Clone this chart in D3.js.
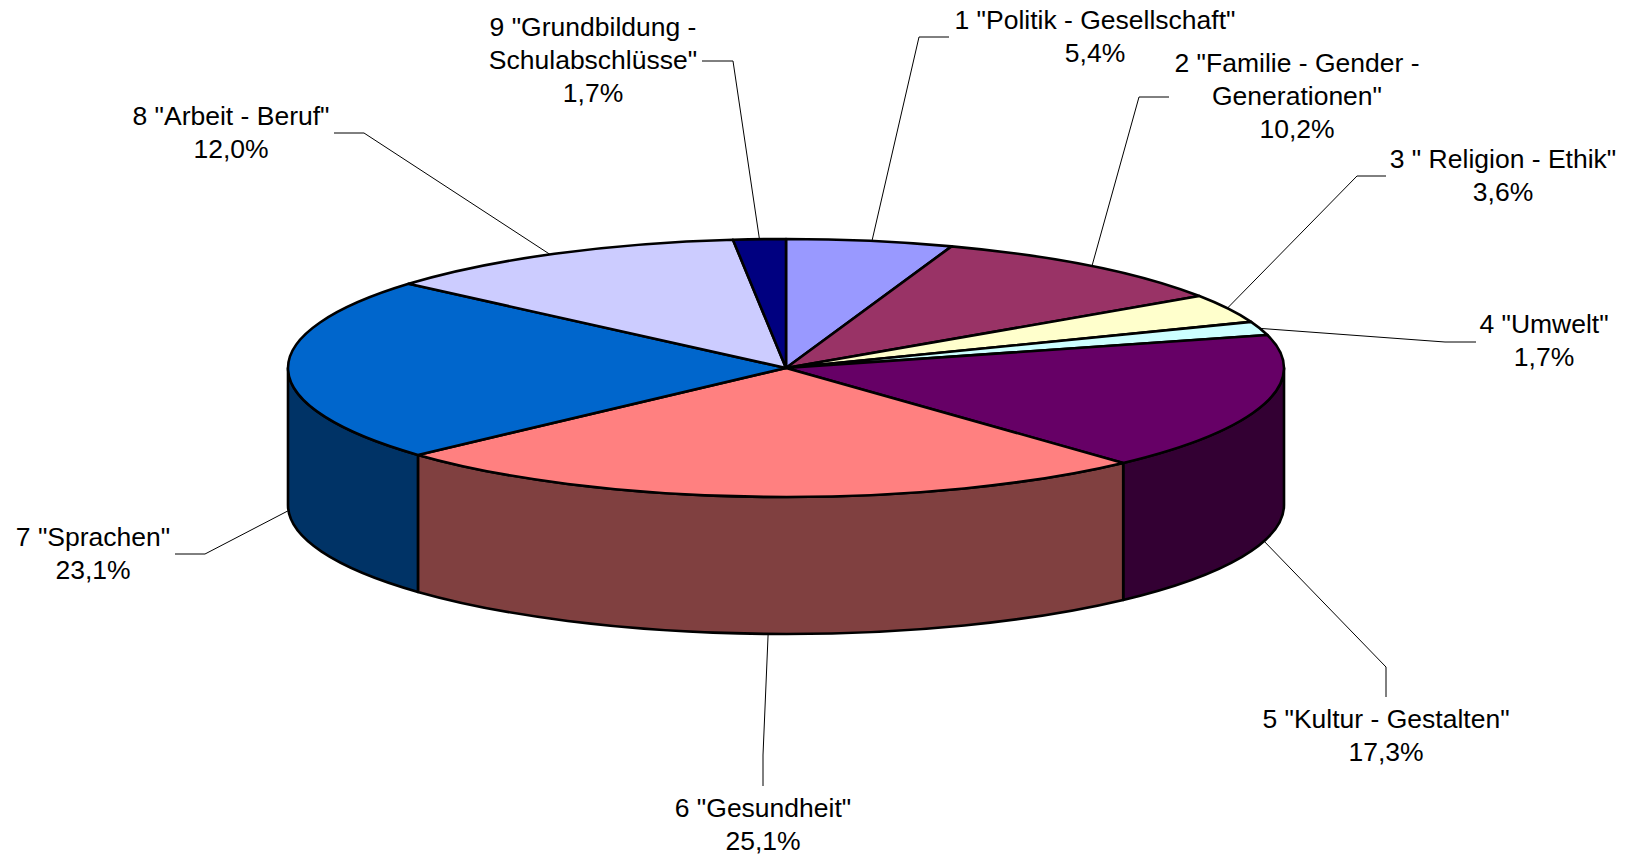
<!DOCTYPE html>
<html>
<head>
<meta charset="utf-8">
<script src="https://cdn.jsdelivr.net/npm/d3@7"></script>
<style>
	html, body { margin: 0; padding: 0; background: #fff; }
	svg { display: block; }
	text { font-family: "Liberation Sans", Arial, sans-serif; font-size: 26.5px; fill: #000; }
</style>
</head>
<body>
<div id="chart"></div>
<script>
var categories = [
	['1 "Politik - Gesellschaft"'],
	['2 "Familie - Gender -', 'Generationen"'],
	['3 " Religion - Ethik"'],
	['4 "Umwelt"'],
	['5 "Kultur - Gestalten"'],
	['6 "Gesundheit"'],
	['7 "Sprachen"'],
	['8 "Arbeit - Beruf"'],
	['9 "Grundbildung -', 'Schulabschlüsse"']
];
var shares = [5.4, 10.2, 3.6, 1.7, 17.3, 25.1, 23.1, 12.0, 1.7];
var topColors = ["#9999FF", "#993366", "#FFFFCC", "#CCFFFF", "#660066", "#FF8080", "#0066CC", "#CCCCFF", "#000080"];

// label placement: centre x and first baseline of each label
var labelX = [1095, 1297, 1503, 1544, 1386, 763, 93, 231, 593];
var labelY = [29, 72, 168, 333, 728, 817, 546, 125, 36];
var lineStep = 33;

// leader lines: label end, elbow, then the slice end is worked out from the pie
var leaderStart = [[949, 37], [1169, 97], [1386, 176], [1476, 342], [1386, 697], [763, 786], [175, 554], [334, 133], [702, 61]];
var leaderElbow = [[919, 37], [1139, 97], [1357, 176], [1445, 342], [1386, 667], [763, 755], [205, 554], [364, 133], [733, 61]];
var leaderNudge = [[2, 0], [1, 0], [-3, 2], [0, 0], [0, 0], [4, 0], [0, 4], [-4, 1], [0, 0]];

var width = 1630;
var height = 856;
var cx = 786;
var cy = 368;
var rx = 498;
var ry = 129;
var depth = 137;
var k = ry / rx;

var nf = d3.formatLocale({decimal: ",", thousands: ".", grouping: [3], currency: ["", "€"]}).format(".1f");

var svg = d3.select("#chart")
	.append("svg")
	.attr("width", width)
	.attr("height", height);

var pie = d3.pie().sort(null).value(function(d) { return d; });
var slices = pie(shares);

function sidePath(d) {
	var a0 = Math.max(d.startAngle, Math.PI / 2);
	var a1 = Math.min(d.endAngle, Math.PI * 1.5);
	if (a1 <= a0) return null;
	var p = d3.path();
	p.arc(0, 0, rx, a0 - Math.PI / 2, a1 - Math.PI / 2);
	p.arc(0, depth / k, rx, a1 - Math.PI / 2, a0 - Math.PI / 2, true);
	p.closePath();
	return p.toString();
}

function leaderEnd(d, i) {
	var mid = (d.startAngle + d.endAngle) / 2;
	var onFront = Math.cos(mid) < 0.02;
	return [
		cx + rx * Math.sin(mid) + leaderNudge[i][0],
		cy - ry * Math.cos(mid) + (onFront ? depth : 0) + leaderNudge[i][1]
	];
}

// leader lines go under the pie so they stop at its edge
svg.append("g").attr("class", "leaders")
	.selectAll("polyline")
	.data(slices)
	.join("polyline")
	.attr("fill", "none")
	.attr("stroke", "#000")
	.attr("stroke-width", 1)
	.attr("points", function(d, i) {
		return [leaderStart[i], leaderElbow[i], leaderEnd(d, i)].join(" ");
	});

var disc = svg.append("g")
	.attr("transform", "translate(" + cx + "," + cy + ") scale(1," + k + ")");

disc.append("g").attr("class", "sides")
	.selectAll("path")
	.data(slices.filter(function(d) { return sidePath(d) !== null; }))
	.join("path")
	.attr("d", sidePath)
	.attr("fill", function(d) {
		var c = d3.rgb(topColors[d.index]);
		return d3.rgb(c.r / 2, c.g / 2, c.b / 2);
	})
	.attr("stroke", "#000")
	.attr("stroke-width", 2.6)
	.attr("stroke-linejoin", "round")
	.attr("vector-effect", "non-scaling-stroke");

var arc = d3.arc().innerRadius(0).outerRadius(rx);

disc.append("g").attr("class", "tops")
	.selectAll("path")
	.data(slices)
	.join("path")
	.attr("d", arc)
	.attr("fill", function(d) { return topColors[d.index]; })
	.attr("stroke", "#000")
	.attr("stroke-width", 2.6)
	.attr("stroke-linejoin", "round")
	.attr("vector-effect", "non-scaling-stroke");

var labels = svg.append("g").attr("class", "labels")
	.selectAll("text")
	.data(slices)
	.join("text")
	.attr("text-anchor", "middle")
	.attr("transform", function(d, i) { return "translate(" + labelX[i] + "," + labelY[i] + ")"; });

labels.selectAll("tspan")
	.data(function(d, i) { return categories[i].concat(nf(shares[i]) + "%"); })
	.join("tspan")
	.attr("x", 0)
	.attr("y", function(d, i) { return i * lineStep; })
	.text(function(d) { return d; });
</script>
</body>
</html>
